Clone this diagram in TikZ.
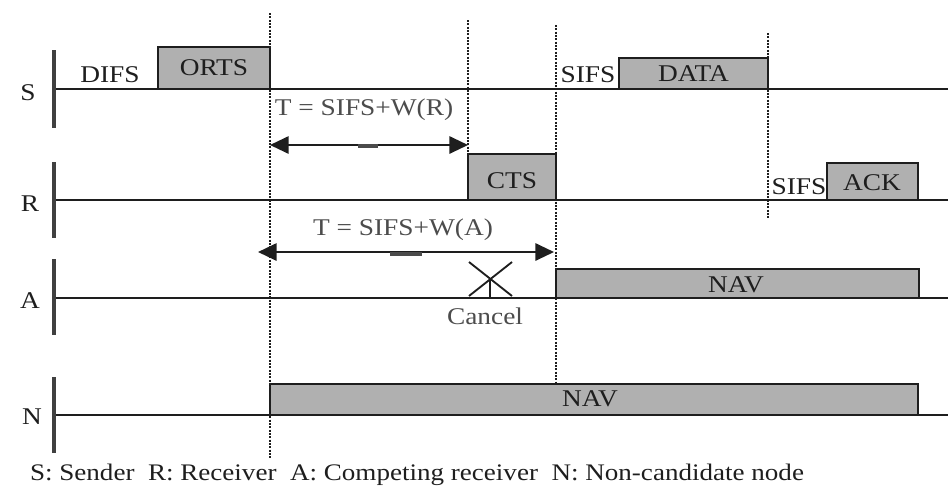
\documentclass[tikz,border=0pt]{standalone}
\usepackage{fontspec}
\setmainfont{Liberation Serif}[FakeStretch=1.14]
\usetikzlibrary{arrows.meta,fit}
\definecolor{boxgray}{RGB}{176,176,176}
\definecolor{ink}{RGB}{30,30,30}
\tikzset{
  tl/.style={draw=ink, line width=1.5pt},
  tickmark/.style={draw=ink!85, line width=2.4pt},
  vdot/.style={draw=ink, line width=2pt, dash pattern=on 1.6pt off 0.9pt},
  pkt/.style={draw=ink, line width=1.6pt, fill=boxgray, inner sep=0pt, rectangle},
  lbl/.style={font=\fontsize{18}{20}\selectfont, text=ink, inner sep=0pt},
  tlbl/.style={font=\fontsize{18}{20}\selectfont, text=black!70, inner sep=0pt},
  dimarrow/.style={draw=ink, line width=1.5pt, {Triangle[length=14pt,width=13pt]}-{Triangle[length=14pt,width=13pt]}},
  blip/.style={draw=ink!80, line width=2.6pt},
  xmark/.style={draw=ink, line width=1.4pt}
}
\begin{document}
\begin{tikzpicture}[x=0.75pt, y=-0.75pt]
\useasboundingbox (0,0) rectangle (948,490);
% coordinates for the time axes
\coordinate (s0) at (54,89);  \coordinate (s1) at (948,89);
\coordinate (r0) at (54,200); \coordinate (r1) at (948,200);
\coordinate (a0) at (54,298); \coordinate (a1) at (948,298);
\coordinate (n0) at (54,415); \coordinate (n1) at (948,415);
% time axes
\draw[tl] (s0) -- (s1);
\draw[tl] (r0) -- (r1);
\draw[tl] (a0) -- (a1);
\draw[tl] (n0) -- (n1);
% ticks
\draw[tickmark] (54,50) -- (54,128);
\draw[tickmark] (54,162) -- (54,238);
\draw[tickmark] (54,259) -- (54,335);
\draw[tickmark] (54,377) -- (54,453);
% row labels
\node[lbl] (ls) at (28,93) {S};
\node[lbl] (lr) at (30,204) {R};
\node[lbl] (la) at (30,301) {A};
\node[lbl] (ln) at (32,417) {N};
% packets
\node[pkt, fit={(158,47) (270,89)}, label={[lbl]center:ORTS}] (orts) {};
\node[pkt, fit={(619,58) (768,89)}, label={[lbl]center:DATA}] (data) {};
\node[pkt, fit={(468,154) (556,200)}] (cts) {};
\node[lbl] (ctst) at (512,181) {CTS};
\node[pkt, fit={(827,163) (918,200)}] (ack) {};
\node[lbl] (ackt) at (872,183) {ACK};
\node[pkt, fit={(556,269) (919,298)}] (nava) {};
\node[lbl] (navat) at (736,285) {NAV};
\node[pkt, fit={(270,384) (918,415)}] (navn) {};
\node[lbl] (navnt) at (590,399) {NAV};
% dotted time markers
\coordinate (d1t) at (270,13);  \coordinate (d1b) at (270,458);
\coordinate (d2t) at (468,20);  \coordinate (d2b) at (468,200);
\coordinate (d3t) at (556,25);  \coordinate (d3b) at (556,384);
\coordinate (d4t) at (768,33);  \coordinate (d4b) at (768,218);
\draw[vdot] (d1t) -- (d1b);
\draw[vdot] (d2t) -- (d2b);
\draw[vdot] (d3t) -- (d3b);
\draw[vdot] (d4t) -- (d4b);
% interframe labels
\node[lbl] (difs) at (110,75) {DIFS};
\node[lbl] (sifs1) at (588,75) {SIFS};
\node[lbl] (sifs2) at (799,187) {SIFS};
% timers
\coordinate (ar0) at (270,145); \coordinate (ar1) at (468,145);
\draw[dimarrow] (ar0) -- (ar1);
\draw[blip] (358,146) -- (378,146);
\node[tlbl] (tr) at (364,110) {T = SIFS+W(R)};
\coordinate (aa0) at (258,252); \coordinate (aa1) at (554,252);
\draw[dimarrow] (aa0) -- (aa1);
\draw[blip] (390,254) -- (422,254);
\node[tlbl] (ta) at (403,230) {T = SIFS+W(A)};
% cancel mark
\coordinate (xc) at (490,278);
\draw[xmark] (469,262) -- (512,296);
\draw[xmark] (512,262) -- (469,296);
\draw[xmark] (xc) -- (490,298);
\node[tlbl] (cancel) at (485,316) {Cancel};
% legend
\node[lbl, font=\fontsize{17.8}{20}\selectfont] (legend) at (417,475) {S: Sender\ \ R: Receiver\ \ A: Competing receiver\ \ N: Non-candidate node};
\end{tikzpicture}
\end{document}
